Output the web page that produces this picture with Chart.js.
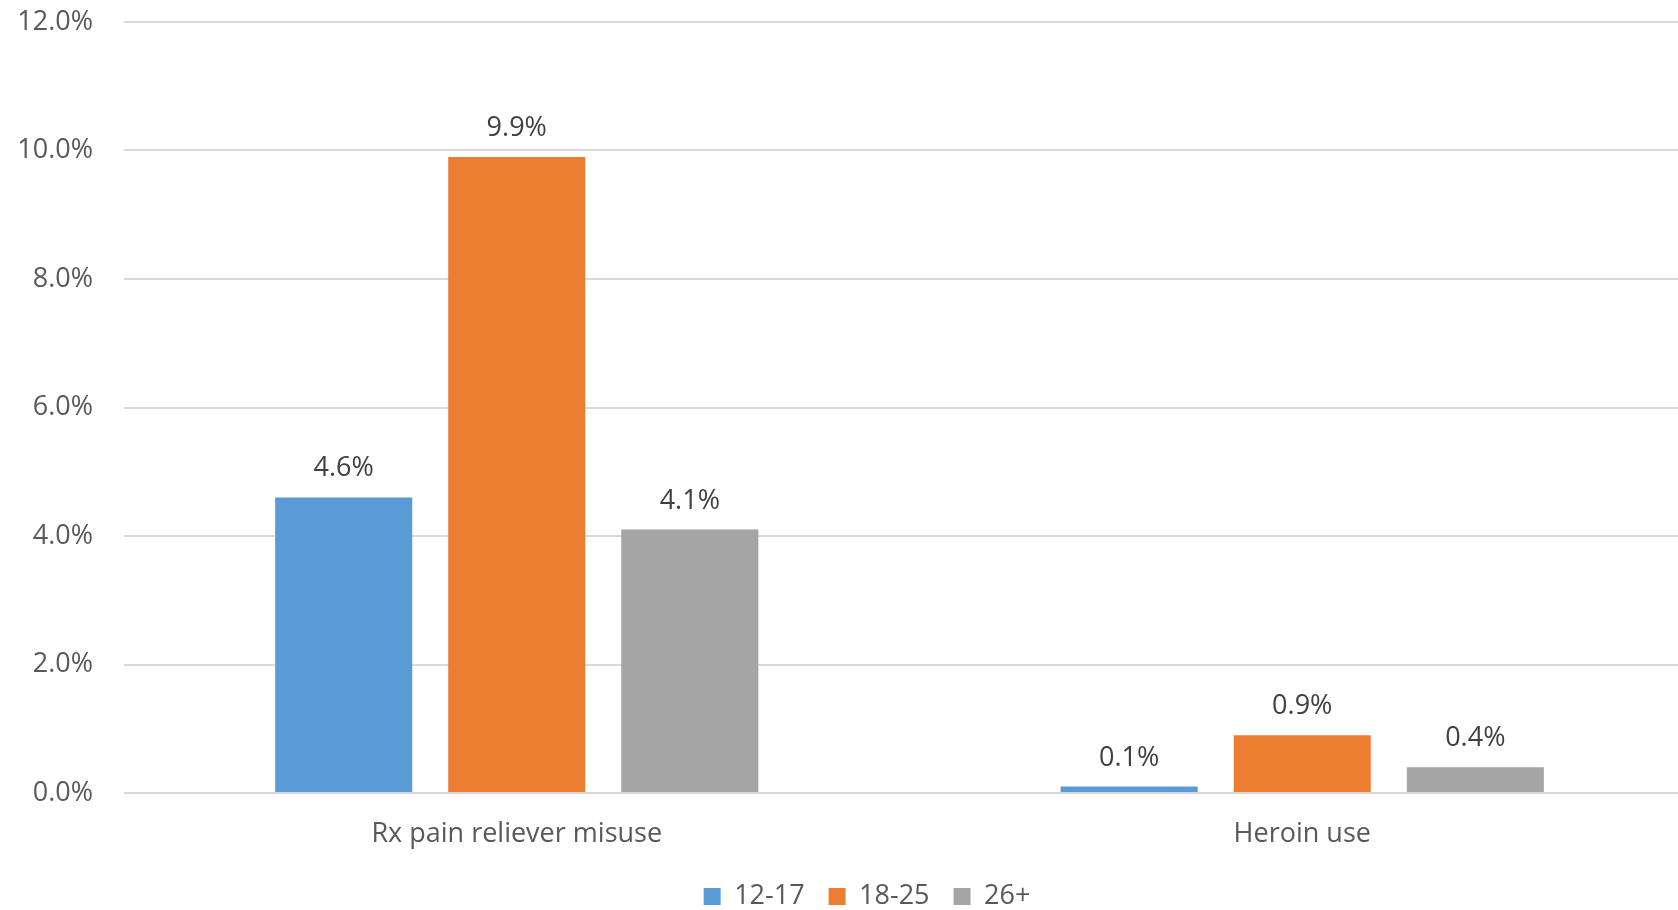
<!DOCTYPE html>
<html>
<head>
<meta charset="utf-8">
<script src="https://cdn.jsdelivr.net/npm/chart.js@4/dist/chart.umd.min.js"></script>
<style>
    html, body { margin: 0; padding: 0; background: #fff; overflow: hidden; }
    #wrap { width: 1678px; height: 910px; overflow: hidden; }
    #box { width: 1734px; height: 910px; }
</style>
</head>
<body>
<div id="wrap"><div id="box"><canvas id="myChart"></canvas></div></div>
<script>
const categories = ["Rx pain reliever misuse", "Heroin use"];
const ages12to17 = [4.6, 0.1];
const ages18to25 = [9.9, 0.9];
const ages26plus = [4.1, 0.4];
const yTicks = [0, 2, 4, 6, 8, 10, 12];

const fontFamily = "'Open Sans', 'Liberation Sans', sans-serif";

// value labels sitting above each bar
const barLabels = {
    id: 'barLabels',
    afterDatasetsDraw(chart) {
        const ctx = chart.ctx;
        ctx.save();
        ctx.font = `27px ${fontFamily}`;
        ctx.fillStyle = '#404040';
        ctx.textAlign = 'center';
        ctx.textBaseline = 'alphabetic';
        chart.data.datasets.forEach((ds, i) => {
            const meta = chart.getDatasetMeta(i);
            meta.data.forEach((bar, j) => {
                ctx.fillText(ds.data[j].toFixed(1) + '%', bar.x, bar.y - 21);
            });
        });
        ctx.restore();
    }
};

const chartConfig = {
    type: 'bar',
    data: {
        labels: categories,
        datasets: [
            { label: '12-17', data: ages12to17, backgroundColor: '#5B9BD5', yAxisID: 'y' },
            { label: '18-25', data: ages18to25, backgroundColor: '#ED7D31', yAxisID: 'y' },
            { label: '26+', data: ages26plus, backgroundColor: '#A5A5A5', yAxisID: 'y' },
        ],
    },
    options: {
        responsive: true,
        maintainAspectRatio: false,
        animation: false,
        categoryPercentage: 0.661,
        barPercentage: 0.792,
        layout: { padding: { left: 0, right: 0, top: 22, bottom: -10 } },
        plugins: {
            tooltip: { enabled: false },
            legend: {
                position: 'bottom',
                labels: {
                    boxWidth: 17,
                    boxHeight: 17,
                    padding: 24,
                    color: '#595959',
                    font: { family: fontFamily, size: 27 },
                },
            },
        },
        scales: {
            x: {
                afterFit(scale) { scale.height = 66; },
                grid: { display: false, drawTicks: false },
                border: { display: false },
                ticks: {
                    color: '#595959',
                    padding: 25,
                    font: { family: fontFamily, size: 27 },
                },
            },
            y: {
                min: 0,
                max: 12,
                afterFit(scale) {
                    scale.width = 124;
                    scale.paddingTop = 0;
                    scale.paddingBottom = 0;
                },
                afterBuildTicks(scale) { scale.ticks = yTicks.map(v => ({ value: v })); },
                grid: { color: '#D9D9D9', lineWidth: 2, drawTicks: false },
                border: { display: false },
                ticks: {
                    color: '#595959',
                    padding: 31,
                    font: { family: fontFamily, size: 27 },
                    callback: (v) => v.toFixed(1) + '%',
                },
            },
            // empty strip on the right so the plot ends where the legend stays centred
            yRight: {
                position: 'right',
                afterFit(scale) {
                    scale.width = 39;
                    scale.paddingTop = 0;
                    scale.paddingBottom = 0;
                },
                grid: { display: false, drawTicks: false },
                border: { display: false },
                ticks: { display: false },
            },
        },
    },
    plugins: [barLabels],
};

const ctx = document.getElementById('myChart').getContext('2d');
new Chart(ctx, chartConfig);
</script>
</body>
</html>
